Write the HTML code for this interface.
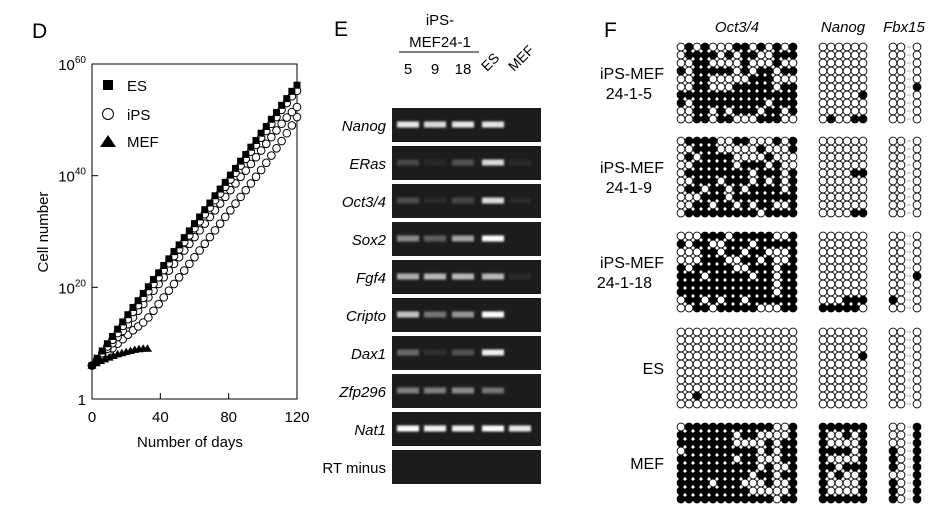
<!DOCTYPE html>
<html><head><meta charset="utf-8"><style>
html,body{margin:0;padding:0;background:#fff;}
svg{display:block;font-family:"Liberation Sans",Arial,sans-serif;}
</style></head><body>
<svg id="fig" width="939" height="510" viewBox="0 0 939 510" xmlns="http://www.w3.org/2000/svg">
<defs><filter id="blur" x="-50%" y="-100%" width="200%" height="300%"><feGaussianBlur stdDeviation="1.1"/></filter></defs>
<g id="panelD">
  <text x="32" y="38" font-size="21">D</text>
  <rect x="92" y="64" width="205" height="335" fill="none" stroke="#000" stroke-width="1"/>
  <text transform="translate(48,232) rotate(-90)" text-anchor="middle" font-size="15">Cell number</text>
  <text x="190" y="447" text-anchor="middle" font-size="15">Number of days</text>
  <g id="dticks"></g><g id="dmarks"></g>
  <g>
    <rect x="103" y="80" width="10" height="10" fill="#000"/>
    <text x="127" y="91" font-size="15">ES</text>
    <circle cx="108" cy="114" r="5.5" fill="#fff" stroke="#000"/>
    <text x="127" y="120" font-size="15">iPS</text>
    <polygon points="108,135 116,147 100,147" fill="#000"/>
    <text x="127" y="147" font-size="15">MEF</text>
  </g>
</g>
<g id="panelE">
  <text x="334" y="36" font-size="21">E</text>
  <text x="440" y="25" text-anchor="middle" font-size="15">iPS-</text>
  <text x="440" y="47" text-anchor="middle" font-size="15">MEF24-1</text>
  <line x1="399" y1="52" x2="479" y2="52" stroke="#000"/>
  <g id="laneLabels"></g><g id="gel"></g>
</g>
<g id="panelF">
  <text x="604" y="37" font-size="21">F</text>
  <text x="737" y="32" text-anchor="middle" font-size="15" font-style="italic">Oct3/4</text>
  <text x="843" y="32" text-anchor="middle" font-size="15" font-style="italic">Nanog</text>
  <text x="904" y="32" text-anchor="middle" font-size="15" font-style="italic">Fbx15</text>
  <g id="meth"></g>
</g>
</svg>
<script>
const NS='http://www.w3.org/2000/svg';
function mk(tag,attrs,parent){const e=document.createElementNS(NS,tag);for(const k in attrs)e.setAttribute(k,attrs[k]);parent.appendChild(e);return e;}
// ---- Panel D data ----
const esDays=[0,3,6,9,12,15,18,21,24,27,30,33,36,39,42,45,48,51,54,57,60,63,66,69,72,75,78,81,84,87,90,93,96,99,102,105,108,111,114,117,120];
const esLog=[6,7.3,8.6,9.9,11.2,12.5,13.8,15.1,16.4,17.6,18.9,20.1,21.4,22.6,23.9,25.1,26.4,27.6,28.9,30.1,31.4,32.6,33.9,35.1,36.4,37.6,38.8,40.1,41.3,42.6,43.8,45.1,46.3,47.6,48.8,50.1,51.3,52.6,53.8,55.1,56.2];
const ipsDays=[0,3,6,9,12,15,18,21,24,27,30,33,36,39,42,45,48,51,54,57,60,63,66,69,72,75,78,81,84,87,90,93,96,99,102,105,108,111,114,117,120];
const ipsALog=[6,7,8.2,9.4,10.6,11.8,13.1,14.3,15.6,16.8,18.1,19.3,20.6,21.8,23.1,24.3,25.6,26.8,28.1,29.3,30.6,31.8,33.1,34.3,35.6,36.8,38,39.3,40.5,41.8,43,44.3,45.5,46.8,48,49.3,50.5,51.8,53,54.2,55.2];
const ipsBLog=[6,6.9,7.9,9,10,11.1,12.2,13.4,14.6,15.8,17,18.2,19.4,20.6,21.8,23,24.2,25.4,26.6,27.8,29,30.2,31.4,32.6,33.8,35,36.2,37.4,38.6,39.8,40.9,42.1,43.3,44.5,45.7,46.9,48.1,49.3,50.4,51.4,52.3];
const ipsCLog=[6,6.7,7.5,8.3,9.1,9.9,10.7,11.5,12.3,13,13.7,14.6,15.8,17,18.2,19.4,20.6,21.8,23,24.2,25.4,26.6,27.8,29,30.2,31.4,32.6,33.8,35,36.2,37.4,38.6,39.8,41,42.3,43.6,44.9,46.2,47.6,49,50.5];
const mefDays=[0,2.5,5,7.5,10,12.5,15,17.5,20,22.5,25,27.5,30,32.5];
const mefLog=[6,6.4,6.8,7.1,7.4,7.7,8,8.2,8.4,8.6,8.8,8.9,9,9];
const xTicks=[0,40,80,120];
const yTickExp=[0,20,40,60];
const X=d=>92+d/120*205, Y=l=>399-l/60*335;
(function(){
const t=document.getElementById('dticks');
xTicks.forEach(v=>{const l=mk('line',{x1:X(v),y1:399,x2:X(v),y2:393,stroke:'#000'},t);

const tx=mk('text',{x:X(v),y:422,'text-anchor':'middle','font-size':15},t);tx.textContent=v;
});
yTickExp.forEach(v=>{const l=mk('line',{x1:92,y1:Y(v),x2:98,y2:Y(v),stroke:'#000'},t);

const tx=mk('text',{x:86,y:Y(v)+6,'text-anchor':'end','font-size':15},t);

if(v===0){tx.textContent='1';}else{tx.textContent='10';const s=mk('tspan',{'font-size':10,dy:-7},tx);s.textContent=v;}});
const m=document.getElementById('dmarks');
[ipsCLog,ipsBLog,ipsALog].forEach(arr=>arr.forEach((v,i)=>{const c=mk('circle',{cx:X(ipsDays[i]),cy:Y(v),r:3.8,fill:'#fff',stroke:'#000','stroke-width':1},m);
}));
esLog.forEach((v,i)=>{const r=mk('rect',{x:X(esDays[i])-3.5,y:Y(v)-3.5,width:7,height:7,fill:'#000'},m);
});
mefLog.forEach((v,i)=>{const x=X(mefDays[i]),y=Y(v);const p=mk('polygon',{points:`${x},${y-4.5} ${x+4.5},${y+3} ${x-4.5},${y+3}`,fill:'#000'},m);
});
})();
// ---- Panel E data ----
const lanes=['5','9','18','ES','MEF'];
const genes=['Nanog','ERas','Oct3/4','Sox2','Fgf4','Cripto','Dax1','Zfp296','Nat1','RT minus'];
const bandIntensity=[[0.85,0.8,0.85,0.85,0],[0.15,0.03,0.2,0.8,0.03],[0.18,0.03,0.15,0.8,0.03],[0.45,0.25,0.55,1,0],[0.6,0.65,0.65,0.65,0.03],[0.7,0.35,0.5,0.95,0],[0.3,0.05,0.2,0.9,0],[0.4,0.4,0.45,0.35,0],[0.95,0.9,0.9,0.95,0.85],[0,0,0,0,0]];
(function(){
const laneX=[408,435,463,493,520];
const ll=document.getElementById('laneLabels');
lanes.forEach((n,i)=>{let t;
if(i<3){t=mk('text',{x:laneX[i],y:74,'text-anchor':'middle','font-size':15},ll);}
else{t=mk('text',{x:laneX[i]-6,y:72,'font-size':14,transform:`rotate(-45 ${laneX[i]-6} 72)`},ll);}
t.textContent=n;});
const g=document.getElementById('gel');
genes.forEach((gn,r)=>{const top=108+r*38;
const bg=mk('rect',{x:392,y:top,width:149,height:34,fill:'#1c1c1c'},g);

const lb=mk('text',{x:386,y:top+23,'text-anchor':'end','font-size':15,'font-style':gn==='RT minus'?'normal':'italic'},g);
lb.textContent=gn;
bandIntensity[r].forEach((v,i)=>{if(v<=0)return;const c=Math.min(255,Math.round(35+v*230));
const b=mk('rect',{x:laneX[i]-11,y:top+13.5,width:22,height:6,fill:`rgb(${c},${c},${c})`,filter:'url(#blur)'},g);
});});
})();
// ---- Panel F data ----
const sampleNames=[['iPS-MEF','24-1-5'],['iPS-MEF','24-1-9'],['iPS-MEF','24-1-18'],['ES'],['MEF']];
const octPatterns=[
["010100011010101","011110101100111","001100001000100","101111101011011","001100000111000","001100011111011","111111111111111","101111111110111","001101011101101","001101100011100"],
["011110011000101","001110000010001","010111100001000","001111101110100","011111111011101","001110111010101","011011010111101","000111011111111","001101101011001","011111111101111"],
["000111011111001","101100111011111","000110110110001","000111001101001","101111100111011","111011111011011","111111111111011","111111111111011","011010110111111","001101111100011"],
["000000000000000","000000000000000","000000000000000","000000000000000","000000000000000","000000000000000","000000000000000","000000000000000","001000000000000","000000000000000"],
["011111111111001","111111101100001","111111100001011","011111111101011","111111101100011","111111111101001","111111111011011","111101110001001","111111111000001","111111111111011"]];
const nanogPatterns=[
["000000","000000","000000","000000","000000","000000","000001","000000","000000","010011"],
["000000","000000","000000","000000","000011","000000","000000","000000","000000","000011"],
["000000","000000","000000","000000","000000","000000","000000","000000","000111","111110"],
["000000","000000","000000","000001","000000","000000","000000","000000","000000","000000"],
["111111","100101","100001","111101","100001","110111","101001","100001","100001","111111"]];
const fbxPatterns=[
["00-0","00-0","00-0","00-0","00-0","00-1","00-0","00-0","00-0","00-0"],
["00-0","00-0","00-0","00-0","00-0","00-0","00-0","00-0","00-0","00-0"],
["00-0","00-0","00-0","00-0","00-0","00-1","00-0","00-0","10-0","00-0"],
["00-0","00-0","00-0","00-0","00-0","00-0","00-0","00-0","00-0","00-0"],
["00-1","00-1","00-1","10-1","10-1","10-1","00-1","10-1","10-1","10-1"]];
(function(){
const g=document.getElementById('meth');const groupTop=[47,141,236,332,427];const step=8.0,rad=3.9;
function grid(pats,x0,top,name){pats.forEach((row,r)=>{[...row].forEach((ch,c)=>{const cx=x0+c*step,cy=top+r*step;
if(ch==='-'){const l=mk('line',{x1:cx-2,y1:cy,x2:cx+2,y2:cy,stroke:'#999','stroke-width':0.8},g);return;}
const e=mk('circle',{cx:cx,cy:cy,r:rad,fill:ch==='1'?'#000':'#fff',stroke:'#000','stroke-width':0.9},g);
});});}
sampleNames.forEach((nm,k)=>{const top=groupTop[k];
grid(octPatterns[k],681,top,'oct34-cpg');grid(nanogPatterns[k],823,top,'nanog-cpg');grid(fbxPatterns[k],893,top,'fbx15-cpg');
const mid=top+36;
nm.forEach((s,j)=>{const y=nm.length===1?mid+6:mid-4+j*20;
const t=mk('text',{x:j===1?652:664,y:y,'text-anchor':'end','font-size':16},g);t.textContent=s;
});});
})();
</script>
</body></html>
